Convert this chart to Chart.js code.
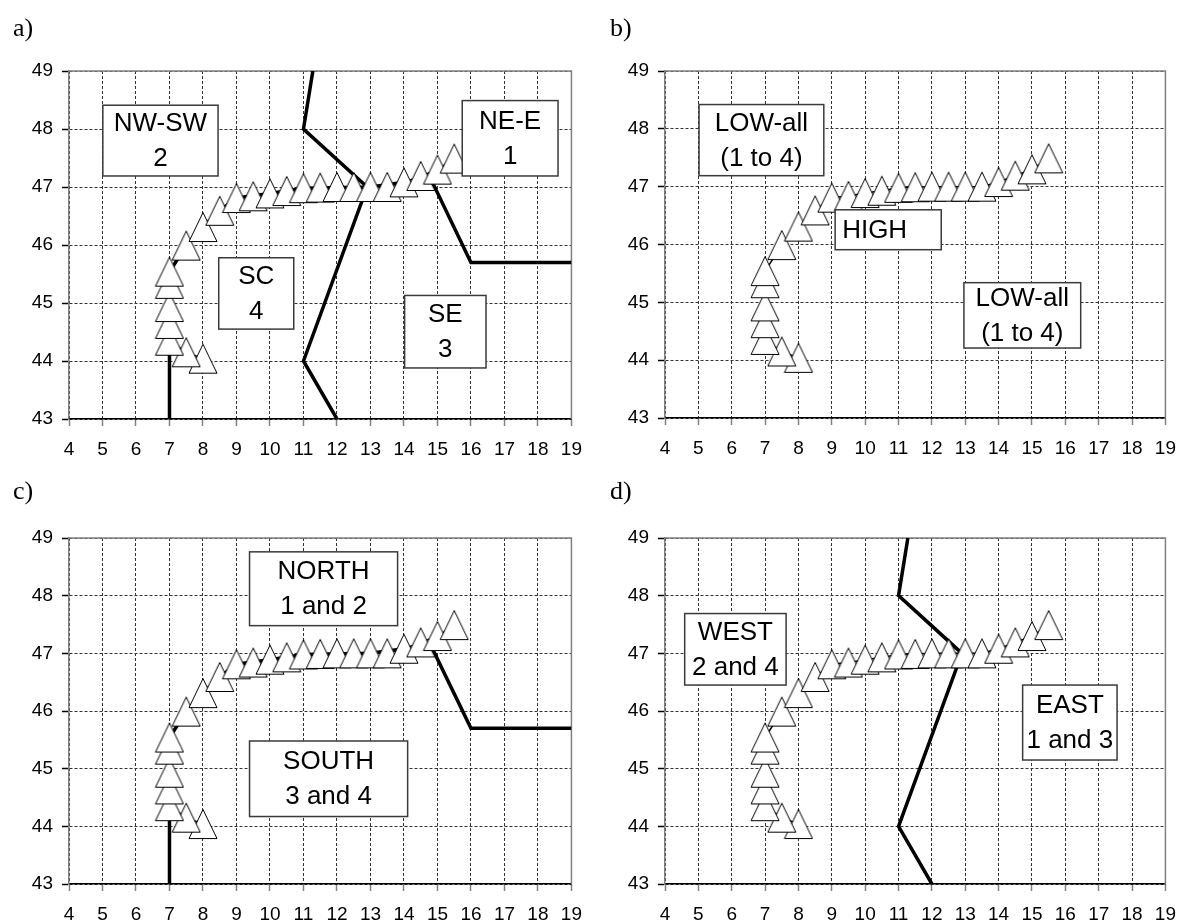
<!DOCTYPE html>
<html>
<head>
<meta charset="utf-8">
<script src="https://cdn.jsdelivr.net/npm/chart.js@4.4.1/dist/chart.umd.min.js"></script>
<style>
    body { margin: 0; background: #fff; }
    #wrap { position: relative; width: 1188px; height: 924px; background: #fff; }
    .panel { position: absolute; width: 594px; height: 462px; }
    .tag { position: absolute; font-family: 'Liberation Serif', 'Times New Roman', serif; font-size: 26px; line-height: 1; color: #000; }
</style>
</head>
<body>
<div id="wrap">
    <div class="panel" style="left:0;top:0"><canvas id="chart-a" width="594" height="462"></canvas></div>
    <div class="panel" style="left:594px;top:0"><canvas id="chart-b" width="594" height="462"></canvas></div>
    <div class="panel" style="left:0;top:462px"><canvas id="chart-c" width="594" height="462"></canvas></div>
    <div class="panel" style="left:594px;top:462px"><canvas id="chart-d" width="594" height="462"></canvas></div>
    <div class="tag" style="left:13px;top:15px">a)</div>
    <div class="tag" style="left:610px;top:15px">b)</div>
    <div class="tag" style="left:13px;top:478px">c)</div>
    <div class="tag" style="left:610px;top:478px">d)</div>
</div>
<script>
// tick labels
const xTickValues = [4, 5, 6, 7, 8, 9, 10, 11, 12, 13, 14, 15, 16, 17, 18, 19];
const yTickValues = [43, 44, 45, 46, 47, 48, 49];

// track (triangles)
const trackX = [8, 7.5, 7, 7, 7, 7, 7, 7.5, 8, 8.5, 9, 9.5, 10, 10.5, 11, 11.5, 12, 12.5, 13, 13.5, 14, 14.5, 15, 15.5];
const trackY = [44.04, 44.15, 44.35, 44.64, 44.93, 45.33, 45.54, 45.99, 46.31, 46.59, 46.81, 46.84, 46.89, 46.93, 46.98, 46.99, 47.0, 47.0, 47.0, 47.0, 47.08, 47.19, 47.3, 47.49];

// north / south boundary
const northSouthX = [7, 7, 7.5, 8, 8.5, 9, 10, 11, 13, 14, 14.9, 16, 19];
const northSouthY = [43, 45.54, 45.99, 46.31, 46.59, 46.81, 46.89, 46.98, 47.0, 47.08, 47.02, 45.7, 45.7];

// east / west boundary
const eastWestX = [12, 11, 12.9, 11, 11.28];
const eastWestY = [43, 44, 47.0, 48, 49];

const toPoints = (xs, ys) => xs.map((v, i) => ({ x: v, y: ys[i] }));

const FONT = "'Liberation Sans', Arial, sans-serif";

// isosceles triangle marker like the original
function makeTriangle() {
    const c = document.createElement('canvas');
    c.width = 30;
    c.height = 32;
    const g = c.getContext('2d');
    g.beginPath();
    g.moveTo(15, 1.5);
    g.lineTo(29, 30.5);
    g.lineTo(1, 30.5);
    g.closePath();
    g.fillStyle = '#fff';
    g.fill();
    g.strokeStyle = '#000';
    g.lineWidth = 1;
    g.stroke();
    return c;
}
const triangle = makeTriangle();

const framePlugin = {
    id: 'frame',
    beforeDatasetsDraw(chart) {
        const { ctx, chartArea: a } = chart;
        ctx.save();
        ctx.strokeStyle = '#808080';
        ctx.lineWidth = 1.5;
        ctx.beginPath();
        ctx.moveTo(a.left, a.top);
        ctx.lineTo(a.right, a.top);
        ctx.lineTo(a.right, a.bottom);
        ctx.stroke();
        ctx.restore();
    }
};

function boxesPlugin(items) {
    return {
        id: 'boxes',
        afterDatasetsDraw(chart) {
            const { ctx, scales: { x, y } } = chart;
            ctx.save();
            items.forEach(b => {
                const l = x.getPixelForValue(b.x0), r = x.getPixelForValue(b.x1);
                const t = y.getPixelForValue(b.y1), bt = y.getPixelForValue(b.y0);
                ctx.fillStyle = '#fff';
                ctx.fillRect(l, t, r - l, bt - t);
                ctx.strokeStyle = '#3a3a3a';
                ctx.lineWidth = 1.5;
                ctx.strokeRect(l, t, r - l, bt - t);
                ctx.font = '26px ' + FONT;
                ctx.fillStyle = '#000';
                ctx.textBaseline = 'middle';
                const cy = (t + bt) / 2;
                const n = b.text.length;
                b.text.forEach((s, i) => {
                    const ty = cy + (i - (n - 1) / 2) * 35 + 1;
                    if (b.align === 'left') {
                        ctx.textAlign = 'left';
                        ctx.fillText(s, l + 7, ty);
                    } else {
                        ctx.textAlign = 'center';
                        ctx.fillText(s, (l + r) / 2, ty);
                    }
                });
            });
            ctx.restore();
        }
    };
}

function buildPanel(id, layout, lines, boxes) {
    const datasets = [{
        data: toPoints(trackX, trackY),
        showLine: true,
        borderColor: '#000',
        borderWidth: 1.5,
        pointStyle: triangle,
        pointRadius: 15,
        order: 0
    }];
    if (lines.northSouth) {
        datasets.push({
            data: toPoints(northSouthX, northSouthY),
            showLine: true,
            borderColor: '#000',
            borderWidth: 3.5,
            pointRadius: 0,
            order: 1
        });
    }
    if (lines.eastWest) {
        datasets.push({
            data: toPoints(eastWestX, eastWestY),
            showLine: true,
            borderColor: '#000',
            borderWidth: 3.5,
            pointRadius: 0,
            order: 2
        });
    }

    var options = {
        type: 'scatter',
        data: { datasets: datasets },
        options: {
            responsive: false,
            animation: false,
            devicePixelRatio: 1,
            layout: { padding: { left: 0, right: layout.pr, top: layout.pt, bottom: 0 } },
            plugins: {
                legend: { display: false },
                tooltip: { enabled: false }
            },
            scales: {
                x: {
                    type: 'linear',
                    min: 4,
                    max: 19,
                    afterBuildTicks: s => { s.ticks = xTickValues.map(v => ({ value: v })); },
                    afterFit: s => { s.height = layout.xh; },
                    ticks: {
                        color: '#000',
                        font: { family: FONT, size: 19 },
                        padding: 12,
                        maxRotation: 0,
                        autoSkip: false
                    },
                    grid: {
                        color: '#333',
                        lineWidth: 1,
                        tickLength: 7,
                        tickColor: '#808080',
                        tickWidth: 1.5
                    },
                    border: { color: '#000', width: 1.5, dash: [3, 2] }
                },
                y: {
                    type: 'linear',
                    min: 43,
                    max: 49,
                    afterBuildTicks: s => { s.ticks = yTickValues.map(v => ({ value: v })); },
                    afterFit: s => { s.width = layout.yw; },
                    ticks: {
                        color: '#000',
                        font: { family: FONT, size: 19 },
                        padding: 9,
                        autoSkip: false
                    },
                    grid: {
                        color: '#333',
                        lineWidth: 1,
                        tickLength: 7,
                        tickColor: '#000',
                        tickWidth: 1.5
                    },
                    border: { color: '#808080', width: 1.5, dash: [3, 2] }
                }
            }
        },
        plugins: [framePlugin, boxesPlugin(boxes)]
    };

    var ctx = document.getElementById(id).getContext('2d');
    return new Chart(ctx, options);
}

const charts = {};

charts.a = buildPanel('chart-a', { yw: 69, pr: 16, pt: 71, xh: 43 }, { northSouth: true, eastWest: true }, [
    { x0: 5.01, x1: 8.45, y0: 47.19, y1: 48.41, text: ['NW-SW', '2'] },
    { x0: 15.74, x1: 18.6, y0: 47.19, y1: 48.49, text: ['NE-E', '1'] },
    { x0: 8.47, x1: 10.71, y0: 44.55, y1: 45.78, text: ['SC', '4'] },
    { x0: 14.02, x1: 16.45, y0: 43.88, y1: 45.13, text: ['SE', '3'] }
]);

charts.b = buildPanel('chart-b', { yw: 71, pr: 16, pt: 71, xh: 44 }, {}, [
    { x0: 5.02, x1: 8.76, y0: 47.19, y1: 48.42, text: ['LOW-all', '(1 to 4)'] },
    { x0: 9.1, x1: 12.28, y0: 45.91, y1: 46.6, text: ['HIGH'], align: 'left' },
    { x0: 12.96, x1: 16.46, y0: 44.21, y1: 45.34, text: ['LOW-all', '(1 to 4)'] }
]);

charts.c = buildPanel('chart-c', { yw: 69, pr: 16, pt: 76, xh: 40 }, { northSouth: true }, [
    { x0: 9.39, x1: 13.81, y0: 47.48, y1: 48.76, text: ['NORTH', '1 and 2'] },
    { x0: 9.39, x1: 14.11, y0: 44.17, y1: 45.48, text: ['SOUTH', '3 and 4'] }
]);

charts.d = buildPanel('chart-d', { yw: 71, pr: 13, pt: 76, xh: 40 }, { eastWest: true }, [
    { x0: 4.59, x1: 7.63, y0: 46.45, y1: 47.69, text: ['WEST', '2 and 4'] },
    { x0: 14.72, x1: 17.55, y0: 45.15, y1: 46.45, text: ['EAST', '1 and 3'] }
]);
</script>
</body>
</html>
